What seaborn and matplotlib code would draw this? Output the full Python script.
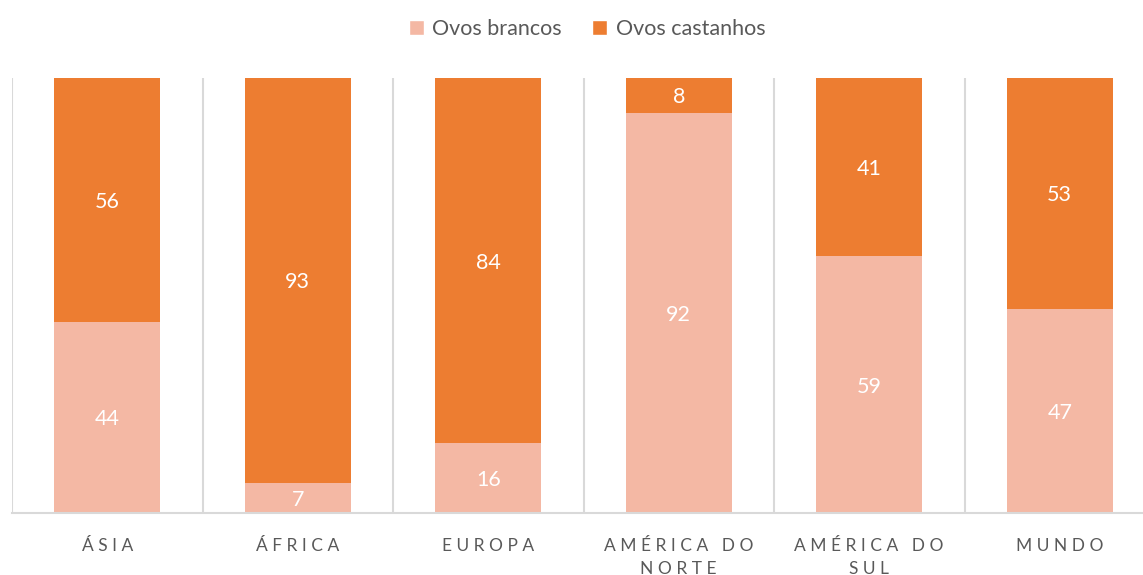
import matplotlib
matplotlib.use("Agg")
import matplotlib.pyplot as plt
import pandas as pd
import seaborn as sns
from matplotlib.patches import Patch

regions = ["ÁSIA", "ÁFRICA", "EUROPA", "AMÉRICA DO\nNORTE", "AMÉRICA DO\nSUL", "MUNDO"]
brancos = [44, 7, 16, 92, 59, 47]
castanhos = [56, 93, 84, 8, 41, 53]
series_names = ["Ovos brancos", "Ovos castanhos"]

light = "#F4B8A4"
dark = "#ED7D31"
grid_color = "#D9D9D9"
text_color = "#595959"


def spaced(label):
    # fake the wide letter spacing of the original
    lines = []
    for line in label.split("\n"):
        words = [" ".join(w) for w in line.split(" ")]
        lines.append("   ".join(words))
    return "\n".join(lines)


df = pd.DataFrame({"region": regions, "brancos": brancos, "castanhos": castanhos})
df["total"] = df["brancos"] + df["castanhos"]

sns.set_style("white")
plt.rcParams["font.family"] = ["Lato", "DejaVu Sans"]

fig = plt.figure(figsize=(11.43, 5.75), dpi=100)
ax = fig.add_axes([12 / 1143, 62 / 575, 1143 / 1143, 435 / 575])

sns.barplot(data=df, x="region", y="total", color=dark, width=0.556,
            saturation=1, linewidth=0, ax=ax)
sns.barplot(data=df, x="region", y="brancos", color=light, width=0.556,
            saturation=1, linewidth=0, ax=ax)

# labels: castanhos centred in the top segment, brancos in the bottom one
top_bars = ax.containers[0]
for i, bar in enumerate(top_bars):
    x = bar.get_x() + bar.get_width() / 2
    ax.text(x, brancos[i] + castanhos[i] / 2, str(castanhos[i]), ha="center",
            va="center_baseline", color="white", fontsize=15.5)
    ax.text(x, brancos[i] / 2, str(brancos[i]), ha="center",
            va="center_baseline", color="white", fontsize=15.5)

ax.set_xlim(-0.5, len(regions) - 0.5)
ax.set_ylim(0, 100)
ax.set_xlabel("")
ax.set_ylabel("")
ax.set_yticks([])
ax.set_xticks(range(len(regions)))
ax.set_xticklabels([spaced(r) for r in regions], color=text_color, fontsize=12.5,
                   linespacing=1.5, va="top")
ax.tick_params(axis="x", length=0, pad=18)

ax.set_xticks([i - 0.5 for i in range(len(regions) + 1)], minor=True)
ax.grid(which="minor", axis="x", color=grid_color, linewidth=1.5)
ax.set_axisbelow(True)

for side in ["top", "right", "left"]:
    ax.spines[side].set_visible(False)
ax.spines["bottom"].set_color(grid_color)
ax.spines["bottom"].set_linewidth(1.5)

handles = [Patch(facecolor=light), Patch(facecolor=dark)]
fig.legend(handles, series_names, loc="center", bbox_to_anchor=(0.5136, 0.95),
           ncol=2, frameon=False, fontsize=15.5, handlelength=0.7,
           handleheight=0.7, handletextpad=0.4, columnspacing=1.4,
           labelcolor=text_color)

fig.savefig("out.png", dpi=100)
